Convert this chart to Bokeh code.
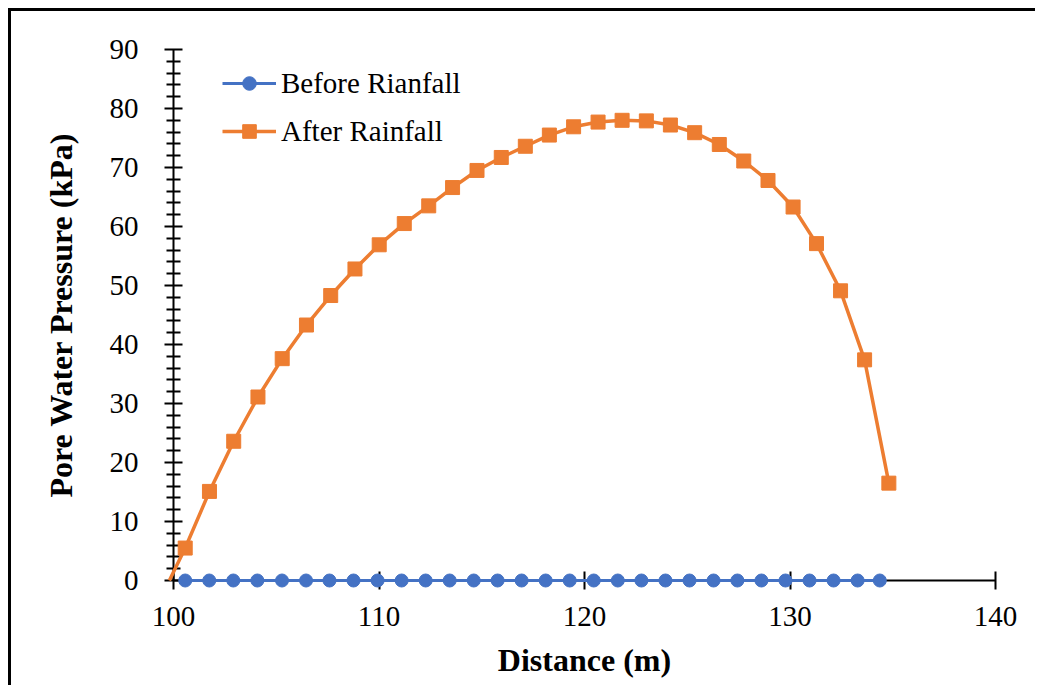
from bokeh.plotting import figure
from bokeh.models import Range1d, FixedTicker, Legend
from bokeh.embed import file_html
from bokeh.resources import INLINE

# ---- data ----
before_x = [100.57, 101.74, 102.91, 104.08, 105.28, 106.45, 107.59, 108.76, 109.93, 111.10,
            112.27, 113.44, 114.61, 115.77, 116.94, 118.11, 119.28, 120.45, 121.62, 122.77,
            123.94, 125.11, 126.28, 127.44, 128.61, 129.78, 130.95, 132.12, 133.29, 134.37]
before_y = [0.0] * 30

after_x = [100.57, 101.75, 102.93, 104.11, 105.29, 106.47, 107.65, 108.83, 110.01, 111.23,
           112.42, 113.58, 114.77, 115.95, 117.12, 118.29, 119.47, 120.66, 121.83, 123.01,
           124.18, 125.36, 126.56, 127.75, 128.93, 130.15, 131.29, 132.46, 133.63, 134.81]
after_y = [5.5, 15.1, 23.6, 31.1, 37.6, 43.3, 48.3, 52.8, 56.9, 60.5,
           63.5, 66.6, 69.5, 71.7, 73.6, 75.5, 76.9, 77.7, 78.0, 77.9,
           77.2, 75.9, 73.9, 71.1, 67.8, 63.3, 57.1, 49.1, 37.4, 16.5]
# first point of the "after" curve lies just outside the axis (line only)
after_start_x = [99.8]
after_start_y = [0.0]

x_ticks = [100, 110, 120, 130, 140]
y_ticks = [0, 10, 20, 30, 40, 50, 60, 70, 80, 90]

BLUE = "#4472C4"
ORANGE = "#ED7D31"
FONT = "Liberation Serif"

p = figure(width=1027, height=677, output_backend="svg", toolbar_location=None,
           x_range=Range1d(100, 140), y_range=Range1d(0, 90),
           min_border_left=162, min_border_right=43, min_border_top=38, min_border_bottom=108)
p.styles = {"margin-left": "8px", "margin-top": "8px",
            "border-left": "3px solid black", "border-top": "3px solid black"}
p.outline_line_color = None
p.grid.visible = False
p.background_fill_color = "white"
p.border_fill_color = "white"

# axes
xa = p.xaxis[0]
xa.ticker = FixedTicker(ticks=x_ticks)
xa.axis_label = "Distance (m)"
xa.axis_line_width = 2
xa.major_tick_line_width = 2
xa.major_tick_in = 9
xa.major_tick_out = 9
xa.minor_tick_line_color = None
xa.major_label_text_font = FONT
xa.major_label_text_font_size = "29px"
xa.major_label_text_color = "black"
xa.major_label_standoff = 17
xa.axis_label_text_font = FONT
xa.axis_label_text_font_style = "bold"
xa.axis_label_text_font_size = "32px"
xa.axis_label_text_color = "black"
xa.axis_label_standoff = 13

ya = p.yaxis[0]
minor = [v for v in range(0, 91, 2) if v % 10 != 0]
ya.ticker = FixedTicker(ticks=y_ticks, minor_ticks=minor)
ya.axis_label = "Pore Water Pressure (kPa)"
ya.axis_line_width = 2
ya.major_tick_line_width = 2
ya.major_tick_in = 9
ya.major_tick_out = 9
ya.minor_tick_line_width = 2
ya.minor_tick_line_color = "black"
ya.minor_tick_in = 7
ya.minor_tick_out = 7
ya.major_label_text_font = FONT
ya.major_label_text_font_size = "29px"
ya.major_label_text_color = "black"
ya.major_label_standoff = 26
ya.axis_label_text_font = FONT
ya.axis_label_text_font_style = "bold"
ya.axis_label_text_font_size = "32px"
ya.axis_label_text_color = "black"
ya.axis_label_standoff = 28

# series
bl = p.line(before_x, before_y, line_color=BLUE, line_width=3, level="overlay")
bs = p.scatter(before_x, before_y, marker="circle", size=13, fill_color=BLUE, line_color=BLUE,
               level="overlay")

al = p.line(after_start_x + after_x, after_start_y + after_y, line_color=ORANGE, line_width=3.5,
            level="overlay")
asq = p.scatter(after_x, after_y, marker="square", size=14, fill_color=ORANGE, line_color=ORANGE,
                level="overlay")

legend = Legend(items=[("Before Rianfall", [bl, bs]), ("After Rainfall", [al, asq])],
                location=(49, 432))
legend.border_line_color = None
legend.background_fill_alpha = 0
legend.padding = 0
legend.margin = 0
legend.spacing = 14
legend.glyph_width = 54
legend.glyph_height = 34
legend.label_height = 34
legend.label_standoff = 5
legend.label_text_font = FONT
legend.label_text_font_size = "29px"
legend.label_text_color = "black"
legend.label_text_baseline = "middle"
p.add_layout(legend, "center")

open("out.html", "w").write(file_html(p, INLINE))
